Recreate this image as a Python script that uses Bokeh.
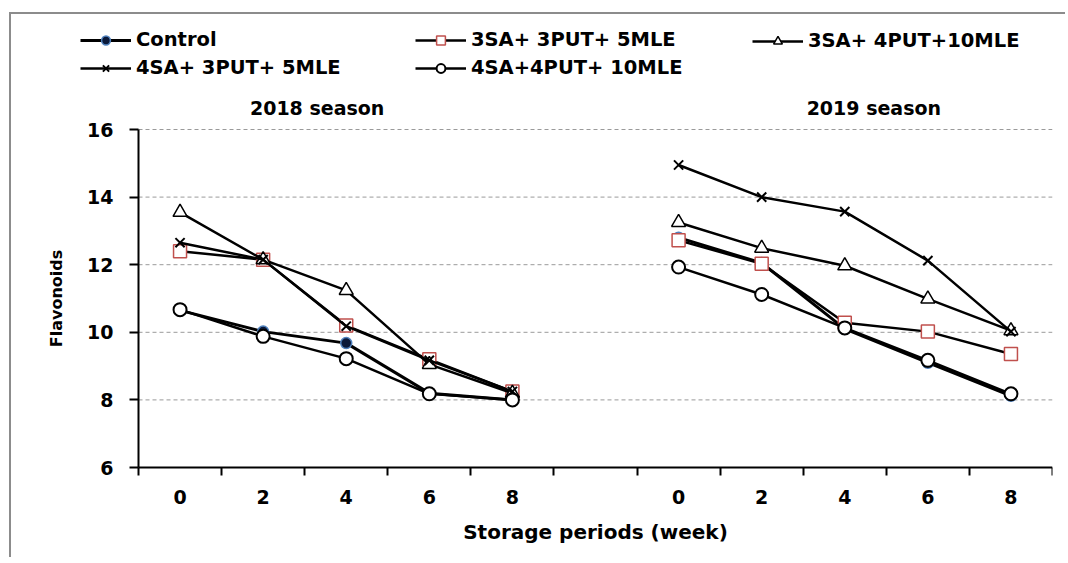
from bokeh.plotting import figure
from bokeh.models import Range1d, FixedTicker, Legend, LegendItem, Label
from bokeh.embed import file_html
from bokeh.resources import INLINE

weeks = ["0", "2", "4", "6", "8"]
seasons = ["2018 season", "2019 season"]
series_names = ["Control", "3SA+ 3PUT+ 5MLE", "3SA+ 4PUT+10MLE",
                "4SA+ 3PUT+ 5MLE", "4SA+4PUT+ 10MLE"]
x_title = "Storage periods (week)"
y_title = "Flavonoids"

control_2018 = [10.65, 10.02, 9.68, 8.20, 8.00]
control_2019 = [12.80, 12.05, 10.10, 9.10, 8.12]
sa3_put3_mle5_2018 = [12.40, 12.15, 10.20, 9.20, 8.25]
sa3_put3_mle5_2019 = [12.72, 12.03, 10.28, 10.02, 9.36]
sa3_put4_mle10_2018 = [13.55, 12.15, 11.24, 9.05, 8.20]
sa3_put4_mle10_2019 = [13.25, 12.49, 11.97, 10.99, 10.05]
sa4_put3_mle5_2018 = [12.65, 12.15, 10.18, 9.17, 8.25]
sa4_put3_mle5_2019 = [14.95, 14.00, 13.57, 12.12, 10.02]
sa4_put4_mle10_2018 = [10.67, 9.88, 9.22, 8.18, 8.00]
sa4_put4_mle10_2019 = [11.93, 11.12, 10.13, 9.17, 8.18]

y_ticks = [6, 8, 10, 12, 14, 16]

FONT = "DejaVu Sans"
N_SLOTS = 11  # 5 weeks, one empty slot, 5 weeks
PX_PER_Y = 33.8

# slot positions: 2018 weeks in slots 0-4, empty slot 5, 2019 weeks in slots 6-10
x2018 = [i + 0.5 for i in range(len(weeks))]
x2019 = [i + 6.5 for i in range(len(weeks))]

p = figure(width=1056, height=545, output_backend="svg", toolbar_location=None,
           x_range=Range1d(-98 * N_SLOTS / 914, N_SLOTS),
           y_range=Range1d(6 - 92 / PX_PER_Y, 6 + 442 / PX_PER_Y),
           min_border_left=29, min_border_right=15, min_border_top=11,
           min_border_bottom=0)
p.styles = {"border-left": "2px solid #8c8c8c", "border-top": "2px solid #8c8c8c",
            "margin-left": "9px", "margin-top": "12px"}
p.outline_line_color = None
p.xgrid.visible = False
p.ygrid.visible = False

# dashed horizontal grid lines over the data area
gy = y_ticks[1:]
p.segment(x0=[0] * len(gy), x1=[N_SLOTS] * len(gy), y0=gy, y1=gy,
          line_color="#9a9a9a", line_dash="4 3", line_width=1)

# x axis, fixed at the bottom of the value range
xa = p.xaxis[0]
xa.fixed_location = y_ticks[0]
xa.bounds = (0, N_SLOTS)
xa.ticker = FixedTicker(ticks=x2018 + x2019, minor_ticks=list(range(N_SLOTS + 1)))
xa.major_label_overrides = {x: w for x, w in zip(x2018 + x2019, weeks + weeks)}
xa.major_tick_line_color = None
xa.minor_tick_line_color = "black"
xa.minor_tick_line_width = 2
xa.minor_tick_out = 8
xa.minor_tick_in = 0
xa.axis_line_width = 2
xa.major_label_standoff = 14
xa.major_label_text_font = FONT
xa.major_label_text_font_style = "bold"
xa.major_label_text_font_size = "19px"
xa.major_label_text_color = "black"

# y axis, fixed at the start of the category slots
ya = p.yaxis[0]
ya.fixed_location = 0
ya.bounds = (y_ticks[0], y_ticks[-1])
ya.ticker = FixedTicker(ticks=y_ticks)
ya.major_tick_out = 9
ya.major_tick_in = 0
ya.major_tick_line_width = 2
ya.minor_tick_line_color = None
ya.axis_line_width = 2
ya.major_label_standoff = 16
ya.major_label_text_font = FONT
ya.major_label_text_font_style = "bold"
ya.major_label_text_font_size = "19px"
ya.major_label_text_color = "black"
ya.axis_label = y_title
ya.axis_label_text_font = FONT
ya.axis_label_text_font_style = "bold"
ya.axis_label_text_font_size = "16px"
ya.axis_label_text_color = "black"
ya.axis_label_standoff = 18

p.add_layout(Label(x=N_SLOTS / 2, y=6 - 64 / PX_PER_Y, text=x_title,
                   text_align="center", text_baseline="middle", text_font=FONT,
                   text_font_style="bold", text_font_size="20px",
                   text_color="black"))

series = [
    (series_names[0], control_2018, control_2019,
     dict(marker="circle", size=11, fill_color="#0b1a3a", line_color="#4f81bd", line_width=1.5), 3),
    (series_names[1], sa3_put3_mle5_2018, sa3_put3_mle5_2019,
     dict(marker="square", size=13, fill_color="white", line_color="#c0504d", line_width=1.5), 2.5),
    (series_names[2], sa3_put4_mle10_2018, sa3_put4_mle10_2019,
     dict(marker="triangle", size=14, fill_color="white", line_color="black", line_width=1.5), 2.5),
    (series_names[3], sa4_put3_mle5_2018, sa4_put3_mle5_2019,
     dict(marker="x", size=13, line_color="black", line_width=2), 2.5),
    (series_names[4], sa4_put4_mle10_2018, sa4_put4_mle10_2019,
     dict(marker="circle", size=13, fill_color="white", line_color="black", line_width=2), 2.5),
]

items = []
for name, y18, y19, mk, lw in series:
    l1 = p.line(x2018, y18, line_color="black", line_width=lw)
    l2 = p.line(x2019, y19, line_color="black", line_width=lw)
    s = p.scatter(x2018 + x2019, y18 + y19, **mk)
    items.append(LegendItem(label=name, renderers=[l1, s]))


def make_legend(its, loc):
    lg = Legend(items=its, location=loc, orientation="vertical",
                padding=0, margin=0, spacing=5,
                glyph_width=51, glyph_height=22, label_height=22,
                label_standoff=5, border_line_color=None,
                background_fill_alpha=0,
                label_text_font=FONT, label_text_font_style="bold",
                label_text_font_size="19.5px", label_text_color="black")
    p.add_layout(lg, "center")


# legend boxes, positioned in pixels from the frame's bottom-left corner
make_legend([items[0], items[3]], (40, 480))
make_legend([items[1], items[4]], (375, 480))
make_legend([items[2]], (712, 507))

for sx, txt in zip([2.15, 8.85], seasons):
    p.add_layout(Label(x=sx, y=16.65, text=txt, text_align="center",
                       text_baseline="middle", text_font=FONT,
                       text_font_style="bold", text_font_size="19px",
                       text_color="black"))

open("out.html", "w").write(file_html(p, INLINE))
